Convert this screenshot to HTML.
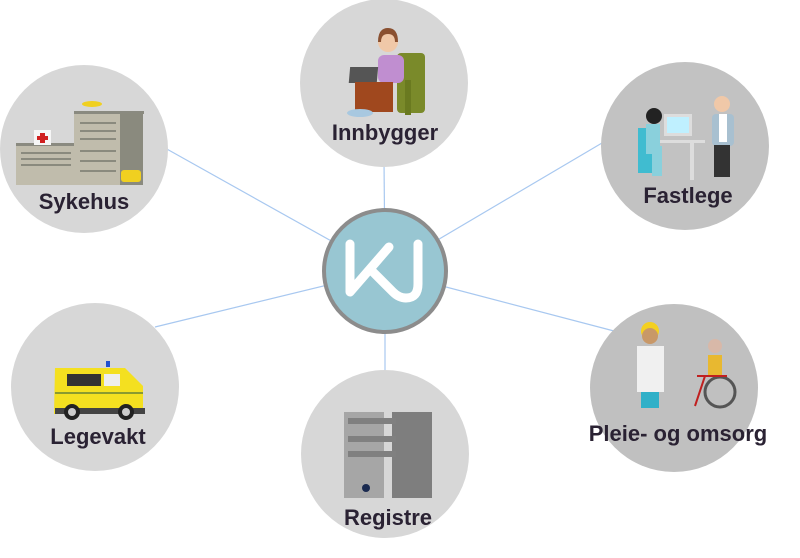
<!DOCTYPE html>
<html><head><meta charset="utf-8"><style>
html,body{margin:0;padding:0;background:#fff;}
svg{display:block}
text{font-family:"Liberation Sans",Arial,sans-serif;font-weight:bold;fill:#2a2233;font-size:22px;text-anchor:middle}
</style></head><body>
<svg width="800" height="558" viewBox="0 0 800 558">
<g stroke="#a8c8f0" stroke-width="1.2">
<line x1="385" y1="271" x2="384" y2="160"/>
<line x1="385" y1="271" x2="165" y2="148"/>
<line x1="385" y1="271" x2="602" y2="143"/>
<line x1="385" y1="271" x2="155" y2="327"/>
<line x1="385" y1="271" x2="614" y2="331"/>
<line x1="385" y1="271" x2="385" y2="372"/>
</g>
<circle cx="384" cy="83" r="84" fill="#d7d7d7"/>
<circle cx="84" cy="149" r="84" fill="#d7d7d7"/>
<circle cx="685" cy="146" r="84" fill="#c2c2c2"/>
<circle cx="95" cy="387" r="84" fill="#d7d7d7"/>
<circle cx="385" cy="454" r="84" fill="#d7d7d7"/>
<circle cx="674" cy="388" r="84" fill="#c0c0c0"/>

<g>
<rect x="397" y="53" width="28" height="60" rx="4" fill="#7a8a2a"/>
<rect x="405" y="80" width="6" height="35" fill="#6a7a20"/>
<rect x="378" y="55" width="26" height="28" rx="6" fill="#c08ed0"/>
<circle cx="388" cy="42" r="10" fill="#f0c8a8"/>
<path d="M378 42 q0-14 10-14 q10 0 10 14 l-3 0 q0-8-7-8 q-7 0-7 8z" fill="#8a5030"/>
<rect x="356" y="67" width="28" height="16" fill="#555" transform="skewX(-5)"/>
<rect x="355" y="82" width="38" height="30" fill="#a0481e"/>
<ellipse cx="360" cy="113" rx="13" ry="4" fill="#a8c8e0"/>
</g>
<text x="385" y="140">Innbygger</text>

<g>
<rect x="16" y="145" width="60" height="40" fill="#c0bcac"/>
<rect x="16" y="143" width="60" height="3" fill="#8a8a80"/>
<rect x="34" y="130" width="17" height="15" fill="#f6f6f6"/>
<rect x="40" y="133" width="5" height="10" fill="#d02020"/><rect x="37" y="136" width="11" height="4" fill="#d02020"/>
<rect x="74" y="113" width="48" height="72" fill="#c0bcac"/>
<rect x="74" y="111" width="70" height="3" fill="#8a8a80"/>
<rect x="120" y="113" width="23" height="72" fill="#8a8a7e"/>
<g fill="#8a8a7e">
<rect x="21" y="152" width="50" height="2"/><rect x="21" y="158" width="50" height="2"/><rect x="21" y="164" width="50" height="2"/>
<rect x="80" y="122" width="36" height="2"/><rect x="80" y="130" width="36" height="2"/><rect x="80" y="138" width="36" height="2"/><rect x="80" y="150" width="36" height="2"/><rect x="80" y="160" width="36" height="2"/><rect x="80" y="170" width="36" height="2"/>
</g>
<rect x="121" y="170" width="20" height="12" rx="3" fill="#f0d020"/>
<ellipse cx="92" cy="104" rx="10" ry="3" fill="#f0d020"/>
</g>
<text x="84" y="209">Sykehus</text>

<g>
<rect x="664" y="114" width="28" height="22" fill="#ddd"/><rect x="667" y="117" width="22" height="16" fill="#bff0ff"/>
<rect x="660" y="140" width="45" height="3" fill="#ddd"/><rect x="690" y="140" width="4" height="40" fill="#ddd"/>
<rect x="638" y="128" width="18" height="45" fill="#40bcd0"/>
<circle cx="654" cy="116" r="8" fill="#222"/>
<rect x="646" y="124" width="14" height="30" fill="#8ad0dc"/>
<rect x="652" y="146" width="10" height="30" fill="#8ad0dc"/>
<circle cx="722" cy="104" r="8" fill="#f0c8a8"/>
<rect x="712" y="114" width="22" height="32" rx="4" fill="#a8c0d0"/>
<rect x="719" y="114" width="8" height="28" fill="#fff"/>
<rect x="714" y="145" width="16" height="32" fill="#333"/>
</g>
<text x="688" y="203">Fastlege</text>

<g>
<path d="M55 368 h70 l18 18 v28 h-89z" fill="#f4e020"/>
<rect x="67" y="374" width="34" height="12" fill="#333"/>
<rect x="104" y="374" width="16" height="12" fill="#eee"/>
<rect x="55" y="392" width="88" height="2" fill="#8a9a30"/>
<rect x="55" y="408" width="90" height="6" fill="#444"/>
<circle cx="72" cy="412" r="8" fill="#222"/><circle cx="72" cy="412" r="4" fill="#ccc"/>
<circle cx="126" cy="412" r="8" fill="#222"/><circle cx="126" cy="412" r="4" fill="#ccc"/>
<rect x="106" y="361" width="4" height="6" fill="#2050d0"/>
</g>
<text x="98" y="444">Legevakt</text>

<g>
<rect x="344" y="412" width="40" height="86" fill="#a6a6a6"/>
<rect x="392" y="412" width="40" height="86" fill="#7e7e7e"/>
<rect x="348" y="418" width="48" height="6" fill="#808080"/>
<rect x="348" y="436" width="48" height="6" fill="#808080"/>
<rect x="348" y="451" width="48" height="6" fill="#808080"/>
<circle cx="366" cy="488" r="4" fill="#1a2a50"/>
</g>
<text x="388" y="525">Registre</text>

<g>
<circle cx="650" cy="331" r="9" fill="#f4d020"/>
<circle cx="650" cy="336" r="8" fill="#c89868"/>
<rect x="637" y="346" width="27" height="46" fill="#f0f0f0"/>
<rect x="641" y="392" width="18" height="16" fill="#30b0c8"/>
<circle cx="715" cy="346" r="7" fill="#d8b8a8"/>
<rect x="708" y="355" width="14" height="20" fill="#e8b830"/>
<circle cx="720" cy="392" r="15" fill="none" stroke="#555" stroke-width="3"/>
<path d="M697 376 h30 M705 376 l-10 30" stroke="#c02020" stroke-width="2" fill="none"/>
</g>
<text x="678" y="441">Pleie- og omsorg</text>

<circle cx="385" cy="271" r="61" fill="#98c6d2" stroke="#8c8c8c" stroke-width="4"/>
<g fill="none" stroke="#ffffff" stroke-width="9" stroke-linecap="round" stroke-linejoin="round">
<path d="M350 244 V292 L389 247"/>
<path d="M371 270 L393 292 q6 6 13 6 q12 0 12-14 V244"/>
</g>
</svg>
</body></html>
